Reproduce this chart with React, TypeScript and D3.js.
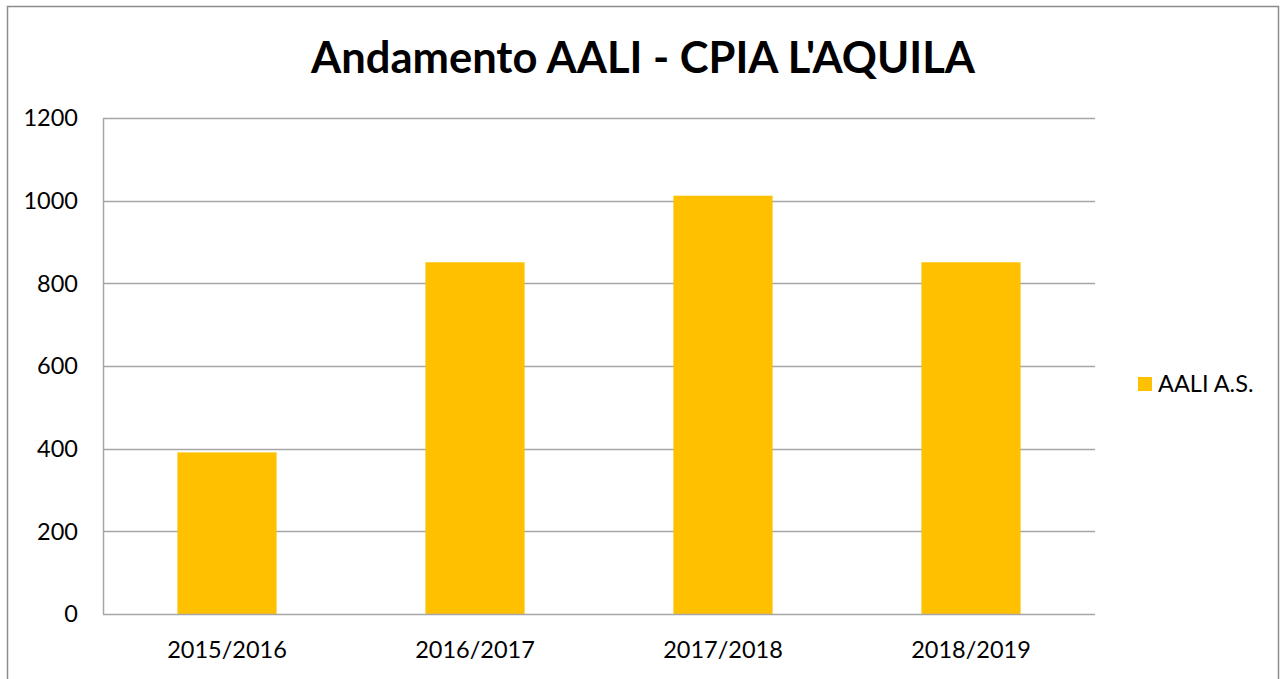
import React, { useEffect, useRef } from 'react';
import * as d3 from 'd3';

const categories = ['2015/2016', '2016/2017', '2017/2018', '2018/2019'];
const values = [391, 851, 1012, 851];
const yTicks = [0, 200, 400, 600, 800, 1000, 1200];
const seriesName = 'AALI A.S.';
const title = "Andamento AALI - CPIA L'AQUILA";

const W = 1281;
const H = 679;
const FONT = "Lato, 'Open Sans', sans-serif";

const App = () => {
  const ref = useRef<SVGSVGElement>(null);

  useEffect(() => {
    const svg = d3.select(ref.current);
    svg.selectAll('*').remove();

    const left = 103, right = 1095, top = 118, bottom = 614;

    const x = d3.scaleBand<string>()
      .domain(categories)
      .range([left, right])
      .paddingInner(0.6)
      .paddingOuter(0.3);
    const y = d3.scaleLinear().domain([0, 1200]).range([bottom, top]);

    svg.append('rect').attr('width', W).attr('height', H).attr('fill', '#fff');
    // chart border
    svg.append('rect')
      .attr('x', 7.5).attr('y', 6.5)
      .attr('width', 1271).attr('height', 690)
      .attr('fill', 'none').attr('stroke', '#8c8c8c').attr('stroke-width', 1.5);

    svg.append('text')
      .attr('x', 643).attr('y', 73)
      .attr('text-anchor', 'middle')
      .style('font-family', FONT).style('font-weight', 'bold').style('font-size', '43.5px')
      .attr('fill', '#000')
      .text(title);

    // gridlines
    svg.append('g').selectAll('line')
      .data(yTicks.filter(t => t > 0))
      .join('line')
      .attr('x1', left).attr('x2', right)
      .attr('y1', d => Math.round(y(d)) + 0.5).attr('y2', d => Math.round(y(d)) + 0.5)
      .attr('stroke', '#a6a6a6').attr('stroke-width', 1.5);

    svg.append('g').selectAll('rect')
      .data(values)
      .join('rect')
      .attr('x', (d, i) => x(categories[i])!)
      .attr('width', x.bandwidth())
      .attr('y', d => y(d))
      .attr('height', d => y(0) - y(d))
      .attr('fill', '#ffc000');

    // axes lines
    svg.append('line')
      .attr('x1', left).attr('x2', right).attr('y1', bottom + 0.5).attr('y2', bottom + 0.5)
      .attr('stroke', '#a6a6a6').attr('stroke-width', 1.5);
    svg.append('line')
      .attr('x1', left + 0.5).attr('x2', left + 0.5).attr('y1', top).attr('y2', bottom)
      .attr('stroke', '#a6a6a6').attr('stroke-width', 1.5);

    svg.append('g').selectAll('text')
      .data(yTicks)
      .join('text')
      .attr('x', 78).attr('y', d => y(d))
      .attr('dy', '0.35em')
      .attr('text-anchor', 'end')
      .style('font-family', FONT).style('font-size', '23.5px')
      .attr('fill', '#000')
      .text(d => d);

    svg.append('g').selectAll('text')
      .data(categories)
      .join('text')
      .attr('x', d => x(d)! + x.bandwidth() / 2).attr('y', 658)
      .attr('text-anchor', 'middle')
      .style('font-family', FONT).style('font-size', '23.5px')
      .attr('fill', '#000')
      .text(d => d);

    // legend
    svg.append('rect')
      .attr('x', 1138).attr('y', 377).attr('width', 14).attr('height', 14)
      .attr('fill', '#ffc000');
    svg.append('text')
      .attr('x', 1158).attr('y', 384).attr('dy', '0.35em')
      .style('font-family', FONT).style('font-size', '23.5px')
      .attr('fill', '#000')
      .text(seriesName);
  }, []);

  return <svg ref={ref} width={W} height={H} style={{ position: 'absolute', left: 0, top: 0 }} />;
};

export default App;
